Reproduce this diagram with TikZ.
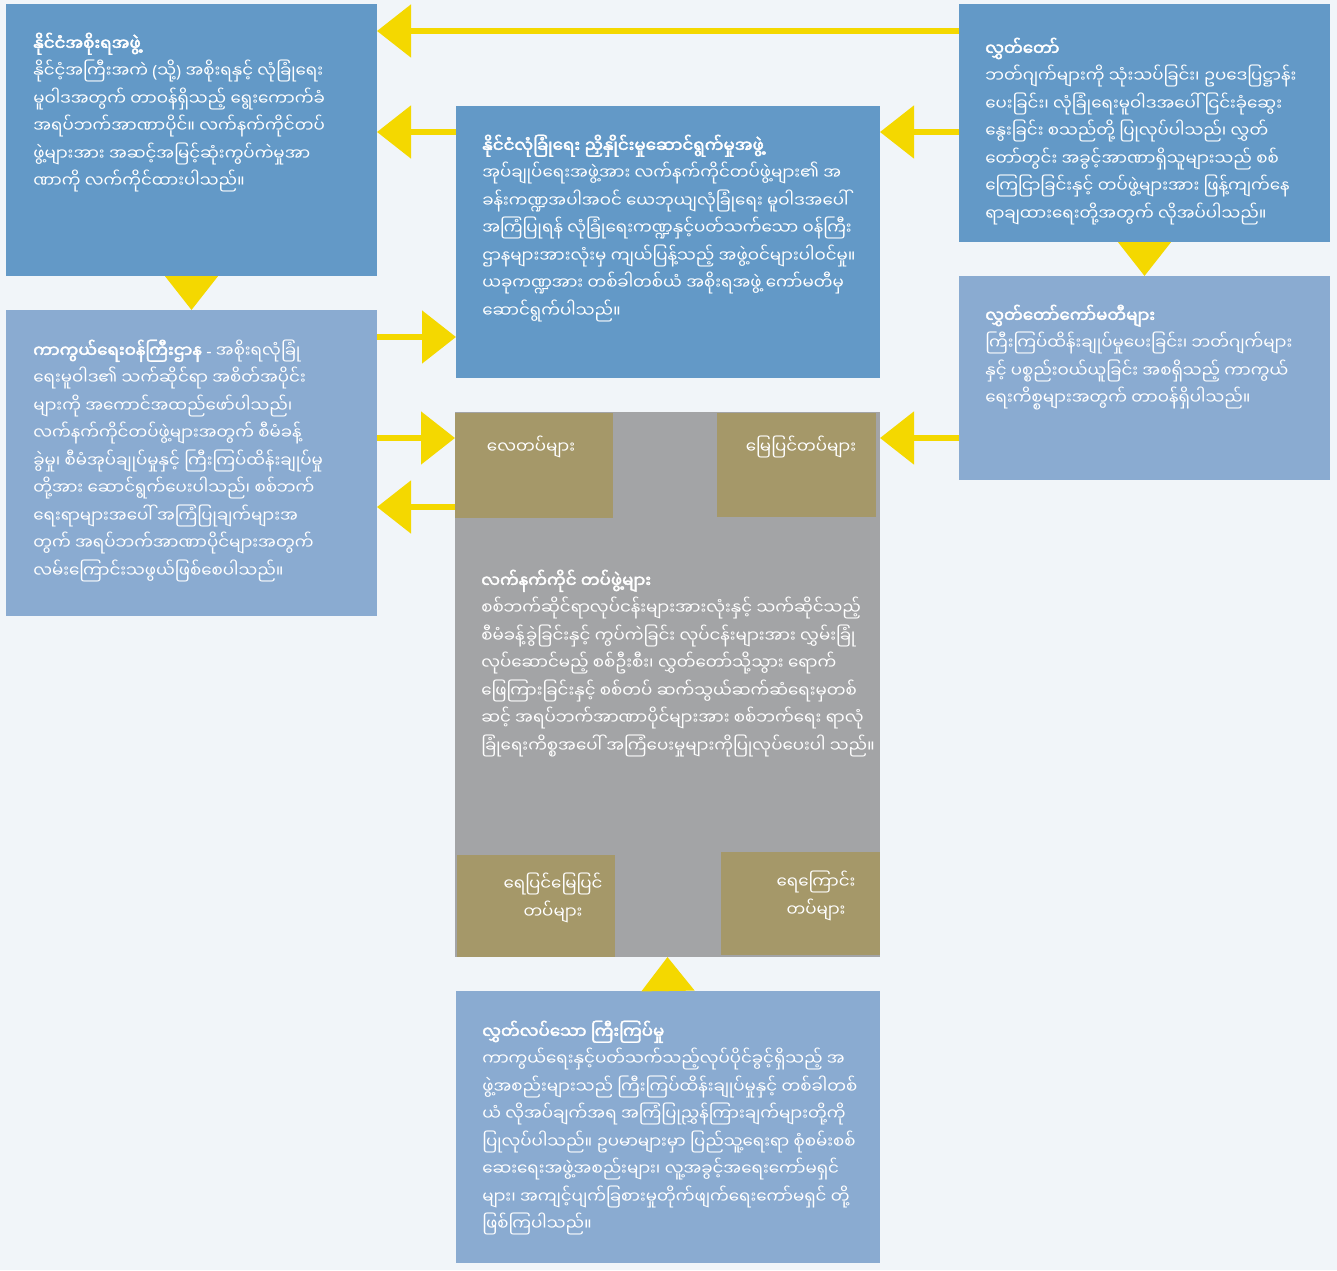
\documentclass[tikz,border=0pt]{standalone}
\usepackage{fontspec}
\newfontfamily\myfont[Script=Myanmar]{Noto Sans Myanmar UI}
\newfontfamily\myfontbf[Script=Myanmar,FakeBold=2.5]{Noto Sans Myanmar UI}
\newfontfamily\latfont{Noto Sans}
\usetikzlibrary{arrows.meta,calc}

\definecolor{bgcol}{HTML}{F1F5F9}
\definecolor{darkbox}{HTML}{6399C7}
\definecolor{lightbox}{HTML}{8AABD1}
\definecolor{greybox}{HTML}{A3A4A6}
\definecolor{tanbox}{HTML}{A59869}
\definecolor{linkcol}{HTML}{F4D800}

\newcommand\firstline{\rule{0pt}{15pt}}

\begin{document}
\begin{tikzpicture}[x=0.75pt,y=-0.75pt,
    box/.style={rectangle,anchor=north west,inner sep=0pt,outer sep=0pt},
    boxtext/.style={anchor=north west,inner sep=0pt,align=left,text=white,
      font=\myfont\fontsize{12.5}{20.6}\selectfont},
    unittext/.style={inner sep=0pt,align=center,text=white,
      font=\myfont\fontsize{12.5}{20.6}\selectfont},
    link/.style={linkcol,line width=4pt,-{Triangle[length=25.5pt,width=39pt]}}]

      \fill [bgcol] (0,0) rectangle (1337,1270);
      \useasboundingbox (0,0) rectangle (1337,1270);

      % boxes
      \node [box,fill=darkbox,minimum width=278.25pt,minimum height=204pt] (gov) at (6,4) {};
      \node [box,fill=darkbox,minimum width=278.25pt,minimum height=178.5pt] (parl) at (959,4) {};
      \node [box,fill=darkbox,minimum width=318pt,minimum height=204pt] (nsc) at (456,106) {};
      \node [box,fill=lightbox,minimum width=278.25pt,minimum height=153pt] (cmte) at (959,276) {};
      \node [box,fill=lightbox,minimum width=278.25pt,minimum height=229.5pt] (mod) at (6,310) {};
      \node [box,fill=greybox,minimum width=318.75pt,minimum height=408.75pt] (forces) at (455,412) {};
      \node [box,fill=lightbox,minimum width=318pt,minimum height=204pt] (oversight) at (456,991) {};

      \node [box,fill=tanbox,minimum width=118.5pt,minimum height=78.75pt] (air) at (455,413) {};
      \node [box,fill=tanbox,minimum width=119.25pt,minimum height=78pt] (land) at (717,413) {};
      \node [box,fill=tanbox,minimum width=118.5pt,minimum height=76.5pt] (amphib) at (457,855) {};
      \node [box,fill=tanbox,minimum width=119.25pt,minimum height=77.25pt] (navy) at (721,852) {};

      % texts
      \node [boxtext] (govtxt) at ($(gov.north west)+(27,26)$) {\firstline{\myfontbf နိုင်ငံအစိုးရအဖွဲ့}\\
        နိုင်ငံ့အကြီးအကဲ {\latfont(}သို့{\latfont)} အစိုးရနှင့် လုံခြုံရေး\\
        မူဝါဒအတွက် တာဝန်ရှိသည့် ရွေးကောက်ခံ\\
        အရပ်ဘက်အာဏာပိုင်။ လက်နက်ကိုင်တပ်\\
        ဖွဲ့များအား အဆင့်အမြင့်ဆုံးကွပ်ကဲမှုအာ\\
        ဏာကို လက်ကိုင်ထားပါသည်။};

      \node [boxtext] (parltxt) at ($(parl.north west)+(26,31)$) {\firstline{\myfontbf လွှတ်တော်}\\
        ဘတ်ဂျက်များကို သုံးသပ်ခြင်း၊ ဥပဒေပြဋ္ဌာန်း\\
        ပေးခြင်း၊ လုံခြုံရေးမူဝါဒအပေါ် ငြင်းခုံဆွေး\\
        နွေးခြင်း စသည်တို့ ပြုလုပ်ပါသည်၊ လွှတ်\\
        တော်တွင်း အခွင့်အာဏာရှိသူများသည် စစ်\\
        ကြေငြာခြင်းနှင့် တပ်ဖွဲ့များအား ဖြန့်ကျက်နေ\\
        ရာချထားရေးတို့အတွက် လိုအပ်ပါသည်။};

      \node [boxtext] (nsctxt) at ($(nsc.north west)+(26,26)$) {\firstline{\myfontbf နိုင်ငံလုံခြုံရေး ညှိနှိုင်းမှုဆောင်ရွက်မှုအဖွဲ့}\\
        အုပ်ချုပ်ရေးအဖွဲ့အား လက်နက်ကိုင်တပ်ဖွဲ့များ၏ အ\\
        ခန်းကဏ္ဍအပါအဝင် ယေဘုယျလုံခြုံရေး မူဝါဒအပေါ်\\
        အကြံပြုရန် လုံခြုံရေးကဏ္ဍနှင့်ပတ်သက်သော ဝန်ကြီး\\
        ဌာနများအားလုံးမှ ကျယ်ပြန့်သည့် အဖွဲ့ဝင်များပါဝင်မှု။\\
        ယခုကဏ္ဍအား တစ်ခါတစ်ယံ အစိုးရအဖွဲ့ ကော်မတီမှ\\
        ဆောင်ရွက်ပါသည်။};

      \node [boxtext] (cmtetxt) at ($(cmte.north west)+(26,26)$) {\firstline{\myfontbf လွှတ်တော်ကော်မတီများ}\\
        ကြီးကြပ်ထိန်းချုပ်မှုပေးခြင်း၊ ဘတ်ဂျက်များ\\
        နှင့် ပစ္စည်းဝယ်ယူခြင်း အစရှိသည့် ကာကွယ်\\
        ရေးကိစ္စများအတွက် တာဝန်ရှိပါသည်။};

      \node [boxtext] (modtxt) at ($(mod.north west)+(27,27)$) {\firstline{\myfontbf ကာကွယ်ရေးဝန်ကြီးဌာန {\latfont\bfseries -}} အစိုးရလုံခြုံ\\
        ရေးမူဝါဒ၏ သက်ဆိုင်ရာ အစိတ်အပိုင်း\\
        များကို အကောင်အထည်ဖော်ပါသည်၊\\
        လက်နက်ကိုင်တပ်ဖွဲ့များအတွက် စီမံခန့်\\
        ခွဲမှု၊ စီမံအုပ်ချုပ်မှုနှင့် ကြီးကြပ်ထိန်းချုပ်မှု\\
        တို့အား ဆောင်ရွက်ပေးပါသည်၊ စစ်ဘက်\\
        ရေးရာများအပေါ် အကြံပြုချက်များအ\\
        တွက် အရပ်ဘက်အာဏာပိုင်များအတွက်\\
        လမ်းကြောင်းသဖွယ်ဖြစ်စေပါသည်။};

      \node [boxtext] (forcestxt) at ($(forces.north west)+(26,155)$) {\firstline{\myfontbf လက်နက်ကိုင် တပ်ဖွဲ့များ}\\
        စစ်ဘက်ဆိုင်ရာလုပ်ငန်းများအားလုံးနှင့် သက်ဆိုင်သည့်\\
        စီမံခန့်ခွဲခြင်းနှင့် ကွပ်ကဲခြင်း လုပ်ငန်းများအား လွှမ်းခြုံ\\
        လုပ်ဆောင်မည့် စစ်ဦးစီး၊ လွှတ်တော်သို့သွား ရောက်\\
        ဖြေကြားခြင်းနှင့် စစ်တပ် ဆက်သွယ်ဆက်ဆံရေးမှတစ်\\
        ဆင့် အရပ်ဘက်အာဏာပိုင်များအား စစ်ဘက်ရေး ရာလုံ\\
        ခြုံရေးကိစ္စအပေါ် အကြံပေးမှုများကိုပြုလုပ်ပေးပါ သည်။};

      \node [boxtext] (oversighttxt) at ($(oversight.north west)+(26,27)$) {\firstline{\myfontbf လွှတ်လပ်သော ကြီးကြပ်မှု}\\
        ကာကွယ်ရေးနှင့်ပတ်သက်သည့်လုပ်ပိုင်ခွင့်ရှိသည့် အ\\
        ဖွဲ့အစည်းများသည် ကြီးကြပ်ထိန်းချုပ်မှုနှင့် တစ်ခါတစ်\\
        ယံ လိုအပ်ချက်အရ အကြံပြုညွှန်ကြားချက်များတို့ကို\\
        ပြုလုပ်ပါသည်။ ဥပမာများမှာ ပြည်သူ့ရေးရာ စုံစမ်းစစ်\\
        ဆေးရေးအဖွဲ့အစည်းများ၊ လူ့အခွင့်အရေးကော်မရှင်\\
        များ၊ အကျင့်ပျက်ခြစားမှုတိုက်ဖျက်ရေးကော်မရှင် တို့\\
        ဖြစ်ကြပါသည်။};

      \node [unittext] (airtxt) at (531,447) {လေတပ်များ};
      \node [unittext] (landtxt) at (801,447) {မြေပြင်တပ်များ};
      \node [unittext] (amphibtxt) at (553,898) {ရေပြင်မြေပြင်\\တပ်များ};
      \node [unittext] (navytxt) at (816,896) {ရေကြောင်း\\တပ်များ};

      % arrows
      \draw [link] ($(parl.north west)+(0,27)$) -- ($(gov.north east)+(0,27)$);
      \draw [link] ($(nsc.north west)+(0,26)$) -- ($(gov.north east)+(0,128)$);
      \draw [link] ($(parl.north west)+(0,128)$) -- ($(nsc.north east)+(0,26)$);
      \draw [link] (gov.south) -- (mod.north);
      \draw [link] (parl.south) -- (cmte.north);
      \draw [link] ($(mod.north east)+(0,27)$) -- ($(nsc.north west)+(0,231)$);
      \draw [link] ($(mod.north east)+(0,128)$) -- ($(forces.north west)+(0,26)$);
      \draw [link] ($(forces.north west)+(0,95)$) -- ($(mod.north east)+(0,197)$);
      \draw [link] ($(cmte.north west)+(0,162)$) -- ($(forces.north east)+(0,26)$);
      \draw [link] (oversight.north) -- (forces.south);
    \end{tikzpicture}
\end{document}
